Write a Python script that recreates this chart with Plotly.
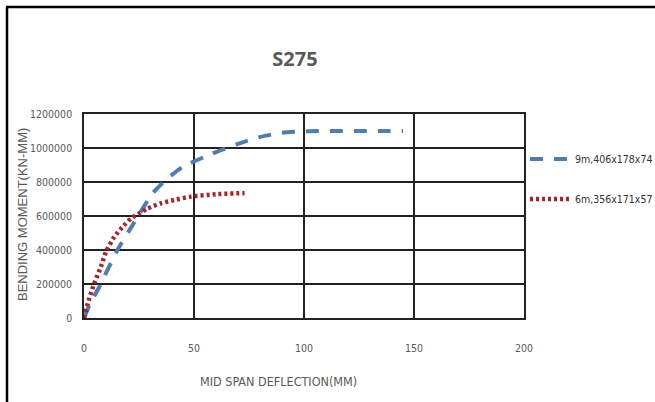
import plotly.graph_objects as go

# Mid-span deflection (mm) vs bending moment (kN-mm), S275 steel
series_names = ["9m,406x178x74", "6m,356x171x57"]

beam9_deflection = [0, 3, 7, 15, 22, 31, 37, 45, 58, 69, 80, 90, 101, 112, 123, 134, 145]
beam9_moment = [0, 90000, 184000, 396000, 545000, 730000, 810000, 890000, 965000,
                1020000, 1065000, 1090000, 1098000, 1100000, 1100000, 1100000, 1100000]

beam6_deflection = [0, 2.4, 4.7, 7.7, 10, 13.8, 17.6, 21.4, 25.2, 29, 35, 41, 48.6, 60, 73]
beam6_moment = [0, 116000, 204000, 302000, 390000, 478000, 537000, 586000, 616000,
                645000, 675000, 694000, 714000, 728000, 735000]

x_ticks = [0, 50, 100, 150, 200]
y_ticks = [0, 200000, 400000, 600000, 800000, 1000000, 1200000]

W, H = 655, 402
L, R, T, B = 84, 131, 114, 84
pw, ph = W - L - R, H - T - B


def px_x(p):
    return (p - L) / pw


def px_y(p):
    return (H - B - p) / ph


narrow = "DejaVu Sans Condensed, Arial Narrow, sans-serif"
grey = "#595959"

fig = go.Figure()
fig.add_trace(go.Scatter(
    x=beam9_deflection, y=beam9_moment, mode="lines", name=series_names[0],
    line=dict(color="#4F7DAF", width=4, dash="13px,11px", shape="spline", smoothing=0.6),
    legend="legend", showlegend=True,
))
fig.add_trace(go.Scatter(
    x=beam6_deflection, y=beam6_moment, mode="lines", name=series_names[1],
    line=dict(color="#A3262C", width=4.5, dash="3px,3px", shape="spline", smoothing=0.6),
    legend="legend2", showlegend=True,
))

axis_common = dict(
    showgrid=True, gridcolor="#222222", gridwidth=1.5,
    showline=True, linecolor="#222222", linewidth=1.5, mirror=True,
    zeroline=False, ticks="", tickfont=dict(family=narrow, size=10.5, color=grey),
)

legend_common = dict(xanchor="left", yanchor="middle", itemwidth=40,
                     font=dict(family=narrow, size=10.5, color="#333333"),
                     bgcolor="rgba(0,0,0,0)", borderwidth=0)

fig.update_layout(
    width=W, height=H,
    margin=dict(l=L, r=R, t=T, b=B, pad=0, autoexpand=False),
    paper_bgcolor="white", plot_bgcolor="white",
    showlegend=True,
    xaxis=dict(range=[0, 200], tickvals=x_ticks, ticklabelstandoff=20, **axis_common),
    yaxis=dict(range=[0, 1200000], tickvals=y_ticks, ticklabelstandoff=8,
               tickformat="d", **axis_common),
    title=dict(text="S275", x=px_x(295), xref="paper", xanchor="center",
               y=1 - 59 / H, yanchor="middle",
               font=dict(family="Open Sans", size=20, color=grey, weight="bold")),
    legend=dict(x=px_x(525), y=px_y(159), **legend_common),
    legend2=dict(x=px_x(525), y=px_y(199), **legend_common),
    annotations=[
        dict(text="MID SPAN DEFLECTION(MM)", xref="paper", yref="paper",
             x=px_x(278), y=px_y(381), xanchor="center", yanchor="middle",
             showarrow=False, font=dict(family=narrow, size=12.5, color=grey)),
        dict(text="BENDING MOMENT(KN-MM)", xref="paper", yref="paper",
             x=px_x(22), y=px_y(215), xanchor="center", yanchor="middle",
             textangle=-90, showarrow=False,
             font=dict(family="Liberation Sans, Arial, sans-serif", size=13, color=grey)),
    ],
    shapes=[
        dict(type="line", xref="paper", yref="paper", x0=px_x(6), x1=px_x(W + 5),
             y0=px_y(7), y1=px_y(7), line=dict(color="black", width=2.5)),
        dict(type="line", xref="paper", yref="paper", x0=px_x(7), x1=px_x(7),
             y0=px_y(7), y1=px_y(H + 5), line=dict(color="black", width=2.5)),
    ],
)

fig.write_html("out.html")
